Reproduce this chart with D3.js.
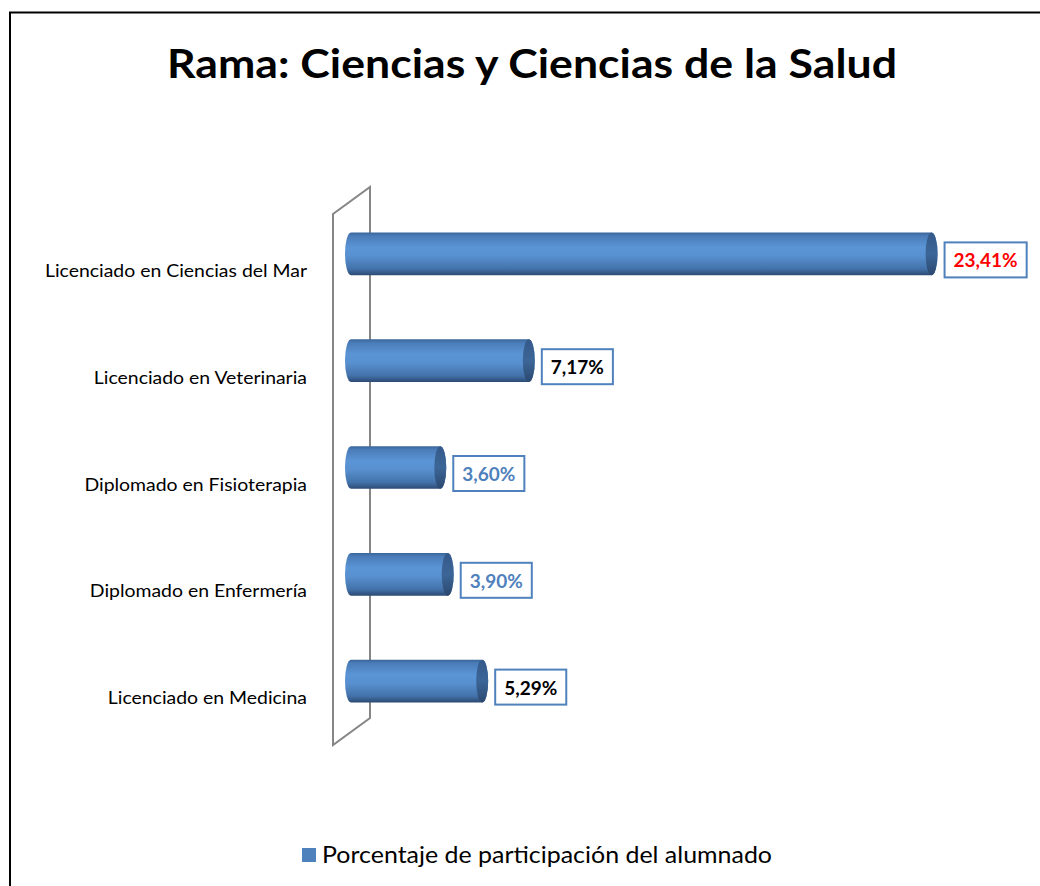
<!DOCTYPE html>
<html>
<head>
<meta charset="utf-8">
<script src="https://cdn.jsdelivr.net/npm/d3@7"></script>
<style>
  body { margin: 0; background: #fff; }
  svg { display: block; }
</style>
</head>
<body>
<script>
(function(){

    //chart data, top to bottom as drawn
    var categories = ["Licenciado en Ciencias del Mar", "Licenciado en Veterinaria", "Diplomado en Fisioterapia", "Diplomado en Enfermería", "Licenciado en Medicina"];
    var values = [23.41, 7.17, 3.60, 3.90, 5.29];
    var seriesName = "Porcentaje de participación del alumnado";
    var title = "Rama: Ciencias y Ciencias de la Salud";

    //label text colours (style only)
    var labelColor = {
        "Licenciado en Ciencias del Mar": "#ff0000",
        "Licenciado en Veterinaria": "#000000",
        "Diplomado en Fisioterapia": "#4f81bd",
        "Diplomado en Enfermería": "#4f81bd",
        "Licenciado en Medicina": "#000000"
    };

    var width = 1040,
        height = 886;

    var font = "Lato, 'Open Sans', sans-serif";

    var svg = d3.select("body")
        .append("svg")
        .attr("width", width)
        .attr("height", height);

    var defs = svg.append("defs");

    //body gradient of the cylinders
    var bodyGrad = defs.append("linearGradient")
        .attr("id", "bodyGrad")
        .attr("x1", 0).attr("y1", 0).attr("x2", 0).attr("y2", 1);
    [[0, "#3a6599"], [0.08, "#4a7cb8"], [0.35, "#5b95d6"], [0.55, "#5890d0"], [0.85, "#4372aa"], [1, "#2c4a73"]]
        .forEach(function(s){ bodyGrad.append("stop").attr("offset", s[0]).attr("stop-color", s[1]); });

    var capGrad = defs.append("linearGradient")
        .attr("id", "capGrad")
        .attr("x1", 0).attr("y1", 0).attr("x2", 0).attr("y2", 1);
    [[0, "#34598a"], [0.5, "#3c6697"], [1, "#2b4870"]]
        .forEach(function(s){ capGrad.append("stop").attr("offset", s[0]).attr("stop-color", s[1]); });

    //stretch text so it takes the width of the original (narrow Calibri-like) lettering
    function stretch(sel, factor){
        sel.each(function(){
            var w = this.getComputedTextLength();
            d3.select(this)
                .attr("textLength", w * factor)
                .attr("lengthAdjust", "spacingAndGlyphs");
        });
    }

    //outer frame
    svg.append("rect")
        .attr("x", 10)
        .attr("y", 12.5)
        .attr("width", 1060)
        .attr("height", 900)
        .attr("fill", "none")
        .attr("stroke", "#000")
        .attr("stroke-width", 2);

    //title
    var titleText = svg.append("text")
        .attr("x", 532)
        .attr("y", 78)
        .attr("text-anchor", "middle")
        .style("font-family", font)
        .style("font-weight", "bold")
        .style("font-size", "40px")
        .text(title);
    stretch(titleText, 730 / titleText.node().getComputedTextLength());

    //scales
    var x = d3.scaleLinear()
        .domain([0, 25])
        .range([351, 971]);

    var y = d3.scaleBand()
        .domain(categories)
        .range([200.5, 734.5])
        .paddingInner(0.6)
        .paddingOuter(0.3);

    //3d depth of the back wall
    var depthX = 37, depthY = -27;
    var wallX = 333, wallTop = 214, wallBottom = 745;

    //back wall (vertical axis plane)
    svg.append("path")
        .attr("d", "M" + wallX + "," + wallBottom +
                   "L" + wallX + "," + wallTop +
                   "L" + (wallX + depthX) + "," + (wallTop + depthY) +
                   "L" + (wallX + depthX) + "," + (wallBottom + depthY) + "Z")
        .attr("fill", "none")
        .attr("stroke", "#868686")
        .attr("stroke-width", 2);

    //category labels
    var cats = svg.selectAll(".cat")
        .data(categories)
        .enter()
        .append("text")
        .attr("class", "cat")
        .attr("x", 307)
        .attr("y", function(d){ return y(d) + y.bandwidth() / 2 + 23; })
        .attr("text-anchor", "end")
        .style("font-family", font)
        .style("font-size", "17px")
        .style("fill", "#000")
        .text(function(d){ return d; });
    stretch(cats, 262 / cats.node().getComputedTextLength());

    var rx = 6;
    var bars = svg.selectAll(".bar")
        .data(categories)
        .enter()
        .append("g")
        .attr("class", "bar");

    //cylinder body
    bars.append("path")
        .attr("d", function(d, i){
            var x0 = x(0), x1 = x(values[i]);
            var t = y(d), b = y(d) + y.bandwidth(), ry = y.bandwidth() / 2;
            return "M" + x0 + "," + t + "L" + x1 + "," + t +
                   "A" + rx + "," + ry + " 0 0 1 " + x1 + "," + b +
                   "L" + x0 + "," + b +
                   "A" + rx + "," + ry + " 0 0 1 " + x0 + "," + t + "Z";
        })
        .attr("fill", "url(#bodyGrad)");

    //cylinder end cap
    bars.append("ellipse")
        .attr("cx", function(d, i){ return x(values[i]); })
        .attr("cy", function(d){ return y(d) + y.bandwidth() / 2; })
        .attr("rx", rx)
        .attr("ry", y.bandwidth() / 2)
        .attr("fill", "url(#capGrad)");

    //data labels in boxes
    var fmt = d3.formatLocale({decimal: ",", thousands: ".", grouping: [3], currency: ["", "€"]}).format(".2f");

    var labels = svg.selectAll(".lab")
        .data(categories)
        .enter()
        .append("g")
        .attr("class", "lab");

    labels.append("text")
        .attr("x", function(d, i){ return x(values[i]) + rx + 6 + 10; })
        .attr("y", function(d){ return y(d) + y.bandwidth() / 2 + 13.5; })
        .style("font-family", font)
        .style("font-weight", "bold")
        .style("font-size", "19px")
        .style("fill", function(d){ return labelColor[d]; })
        .text(function(d, i){ return fmt(values[i]) + "%"; });

    labels.insert("rect", "text")
        .each(function(){
            var t = d3.select(this.parentNode).select("text").node();
            var bb = t.getBBox();
            d3.select(this)
                .attr("x", bb.x - 9)
                .attr("y", bb.y + bb.height / 2 - 17.5)
                .attr("width", bb.width + 18)
                .attr("height", 35);
        })
        .attr("fill", "#fff")
        .attr("stroke", "#4f81bd")
        .attr("stroke-width", 2);

    //legend
    var legend = svg.append("g");
    legend.append("rect")
        .attr("x", 302)
        .attr("y", 848)
        .attr("width", 14)
        .attr("height", 14)
        .attr("fill", "#4f81bd");
    var legendText = legend.append("text")
        .attr("x", 322)
        .attr("y", 863)
        .style("font-family", font)
        .style("font-size", "23px")
        .style("fill", "#000")
        .text(seriesName);
    stretch(legendText, 450 / legendText.node().getComputedTextLength());

})();
</script>
</body>
</html>
